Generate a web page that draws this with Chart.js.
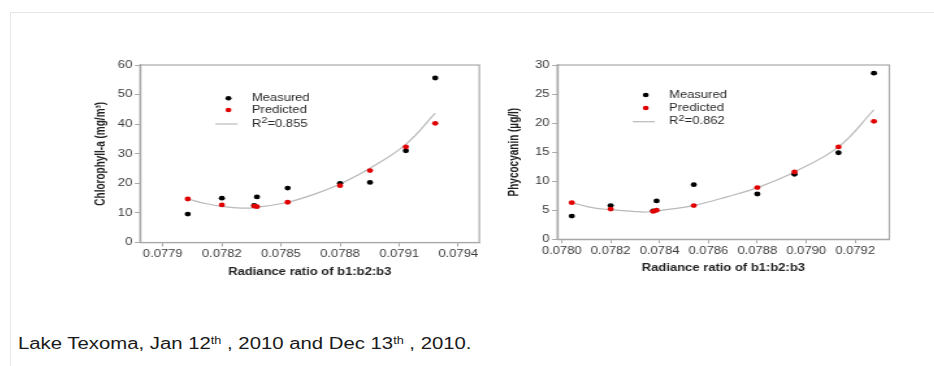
<!DOCTYPE html>
<html>
<head>
<meta charset="utf-8">
<script src="https://cdn.jsdelivr.net/npm/chart.js@4.4.1/dist/chart.umd.min.js"></script>
<style>
    html, body { margin: 0; padding: 0; background: #fff; width: 934px; height: 366px; overflow: hidden; position: relative; font-family: "Liberation Sans", Arial, sans-serif; }
    #frame { position: absolute; left: 10px; top: 12px; width: 940px; height: 380px; border-top: 1px solid #e6e6e6; border-left: 1px solid #e6e6e6; }
    .wrap { position: absolute; top: 50px; transform: scaleX(1.3); transform-origin: 0 0; }
    #caption { position: absolute; left: 18px; top: 336px; font-size: 16px; line-height: 16px; color: #1a1a1a; white-space: nowrap; transform: scaleX(1.27); transform-origin: 0 0; }
    #caption sup { font-size: 10px; line-height: 0; vertical-align: 5px; }
</style>
</head>
<body>
<div id="frame"></div>
<div class="wrap" style="left:80px"><canvas id="chlChart" width="316" height="240"></canvas></div>
<div class="wrap" style="left:500px"><canvas id="pcChart" width="308" height="240"></canvas></div>
<div id="caption">Lake Texoma, Jan 12<sup>th</sup> , 2010 and Dec 13<sup>th</sup> , 2010.</div>

<script>
// Chlorophyll-a panel
const chlX = [0.078027, 0.0782, 0.078364, 0.078378, 0.078534, 0.0788, 0.078952, 0.079134, 0.079283];
const chlMeasured = [9.6, 15.0, 12.5, 15.4, 18.4, 20.0, 20.3, 31.0, 55.6];
const chlPredicted = [14.7, 12.7, 12.3, 12.1, 13.6, 19.2, 24.3, 32.3, 40.3];
const chlFitX = [0.078027, 0.078123, 0.078208, 0.078301, 0.078377, 0.078534, 0.078681, 0.0788, 0.078952, 0.079134, 0.079283];
const chlFitY = [14.7, 13.1, 12.1, 11.6, 11.9, 13.6, 16.6, 19.8, 25.1, 33.2, 43.7];
const chlTicksX = [0.0779, 0.0782, 0.0785, 0.0788, 0.0791, 0.0794];
const chlFitLabel = 'R²=0.855';

// Phycocyanin panel
const pcX = [0.078041, 0.0782, 0.078374, 0.078388, 0.07854, 0.0788, 0.078952, 0.079132, 0.079277];
const pcMeasured = [4.0, 5.8, 4.9, 6.6, 9.4, 7.8, 11.2, 14.9, 28.6];
const pcPredicted = [6.3, 5.2, 4.8, 5.0, 5.8, 8.9, 11.6, 15.9, 20.3];
const pcFitX = [0.078041, 0.07813, 0.0782, 0.078293, 0.078348, 0.078429, 0.07854, 0.078675, 0.0788, 0.078952, 0.079132, 0.079277];
const pcFitY = [6.3, 5.4, 5.1, 4.8, 4.7, 5.1, 5.8, 7.3, 8.9, 11.6, 15.9, 22.3];
const pcTicksX = [0.0780, 0.0782, 0.0784, 0.0786, 0.0788, 0.0790, 0.0792];
const pcFitLabel = 'R²=0.862';

const FONT = '"Liberation Sans", Arial, sans-serif';
const AXIS_GREY = '#a9a9a9';

const toPoints = (xs, ys) => xs.map((x, i) => ({ x: x, y: ys[i] }));

// box round the plot area
const boxPlugin = {
    id: 'plotBox',
    beforeDatasetsDraw(chart) {
        const a = chart.chartArea;
        const ctx = chart.ctx;
        ctx.save();
        ctx.strokeStyle = AXIS_GREY;
        ctx.lineWidth = 1.2;
        ctx.strokeRect(a.left, a.top, a.right - a.left, a.bottom - a.top);
        ctx.restore();
    }
};

// legend drawn inside the plot, top left
const innerLegend = {
    id: 'innerLegend',
    afterDraw(chart, args, opts) {
        const ctx = chart.ctx;
        const a = chart.chartArea;
        ctx.save();
        ctx.textBaseline = 'middle';
        chart.data.datasets.forEach((ds, i) => {
            const y = a.top + opts.rows[i];
            if (ds.showLine) {
                ctx.strokeStyle = ds.borderColor;
                ctx.lineWidth = 1.2;
                ctx.beginPath();
                ctx.moveTo(a.left + 58, y);
                ctx.lineTo(a.left + 75, y);
                ctx.stroke();
            } else {
                ctx.fillStyle = ds.backgroundColor;
                ctx.beginPath();
                ctx.arc(a.left + 68, y, 2.3, 0, Math.PI * 2);
                ctx.fill();
            }
            ctx.fillStyle = '#2a2a2a';
            let tx = a.left + 86;
            const parts = ds.label.split('²');
            ctx.font = '10px ' + FONT;
            ctx.fillText(parts[0], tx, y);
            if (parts.length > 1) {
                tx += ctx.measureText(parts[0]).width;
                ctx.font = '8.5px ' + FONT;
                ctx.fillText('2', tx, y - 3.5);
                tx += ctx.measureText('2').width;
                ctx.font = '10px ' + FONT;
                ctx.fillText(parts[1], tx, y);
            }
        });
        ctx.restore();
    }
};

function makePanel(canvasId, cfg) {
    new Chart(document.getElementById(canvasId), {
        type: 'scatter',
        data: {
            datasets: [
                {
                    label: 'Measured',
                    data: toPoints(cfg.x, cfg.measured),
                    backgroundColor: '#000000',
                    borderWidth: 0,
                    pointRadius: 2.4,
                    order: 2
                },
                {
                    label: 'Predicted',
                    data: toPoints(cfg.x, cfg.predicted),
                    backgroundColor: '#e00000',
                    borderWidth: 0,
                    pointRadius: 2.4,
                    order: 1
                },
                {
                    label: cfg.fitLabel,
                    data: toPoints(cfg.fitX, cfg.fitY),
                    showLine: true,
                    borderColor: '#b9b9b9',
                    borderWidth: 1.2,
                    pointRadius: 0,
                    tension: 0.4,
                    order: 3
                }
            ]
        },
        options: {
            responsive: false,
            animation: false,
            layout: { padding: { left: 0, right: cfg.padRight, top: 15, bottom: 0 } },
            plugins: {
                legend: { display: false },
                tooltip: { enabled: false },
                innerLegend: { rows: cfg.legendRows }
            },
            scales: {
                x: {
                    type: 'linear',
                    min: cfg.xMin,
                    max: cfg.xMax,
                    afterBuildTicks: function(scale) {
                        scale.ticks = cfg.ticksX.map(v => ({ value: v }));
                    },
                    afterFit: function(scale) { scale.height = cfg.xAxisHeight; },
                    ticks: {
                        autoSkip: false,
                        maxRotation: 0,
                        padding: 2,
                        color: '#3a3a3a',
                        font: { family: FONT, size: 10 },
                        callback: v => Number(v).toFixed(4)
                    },
                    grid: { drawOnChartArea: false, tickLength: 4, color: AXIS_GREY },
                    border: { color: AXIS_GREY, width: 1.2 },
                    title: {
                        display: true,
                        text: 'Radiance ratio of b1:b2:b3',
                        color: '#222',
                        font: { family: FONT, size: 10, weight: 'bold' },
                        padding: { top: 0, bottom: cfg.xTitlePad }
                    }
                },
                y: {
                    min: 0,
                    max: cfg.yMax,
                    afterFit: function(scale) { scale.width = cfg.yAxisWidth; },
                    ticks: {
                        stepSize: cfg.yStep,
                        padding: 2,
                        color: '#3a3a3a',
                        font: { family: FONT, size: 10 }
                    },
                    grid: { drawOnChartArea: false, tickLength: 4, color: AXIS_GREY },
                    border: { color: AXIS_GREY, width: 1.2 },
                    title: {
                        display: true,
                        text: cfg.yTitle,
                        color: '#222',
                        font: { family: FONT, size: 10, weight: 'bold' },
                        padding: { top: cfg.yTitlePad, bottom: 0 }
                    }
                }
            }
        },
        plugins: [boxPlugin, innerLegend]
    });
}

makePanel('chlChart', {
    x: chlX, measured: chlMeasured, predicted: chlPredicted,
    fitX: chlFitX, fitY: chlFitY, fitLabel: chlFitLabel, ticksX: chlTicksX,
    xMin: 0.077785, xMax: 0.079507, yMax: 60, yStep: 10,
    yTitle: 'Chlorophyll-a (mg/m³)',
    yAxisWidth: 46.2, xAxisHeight: 47.5, padRight: 8.8,
    xTitlePad: 11.3, yTitlePad: 10.7,
    legendRows: [33.3, 45, 59]
});

makePanel('pcChart', {
    x: pcX, measured: pcMeasured, predicted: pcPredicted,
    fitX: pcFitX, fitY: pcFitY, fitLabel: pcFitLabel, ticksX: pcTicksX,
    xMin: 0.077982, xMax: 0.07934, yMax: 30, yStep: 5,
    yTitle: 'Phycocyanin (µg/l)',
    yAxisWidth: 44.1, xAxisHeight: 50.7, padRight: 8.5,
    xTitlePad: 16, yTitlePad: 5.5,
    legendRows: [30, 43, 56.7]
});
</script>
</body>
</html>
